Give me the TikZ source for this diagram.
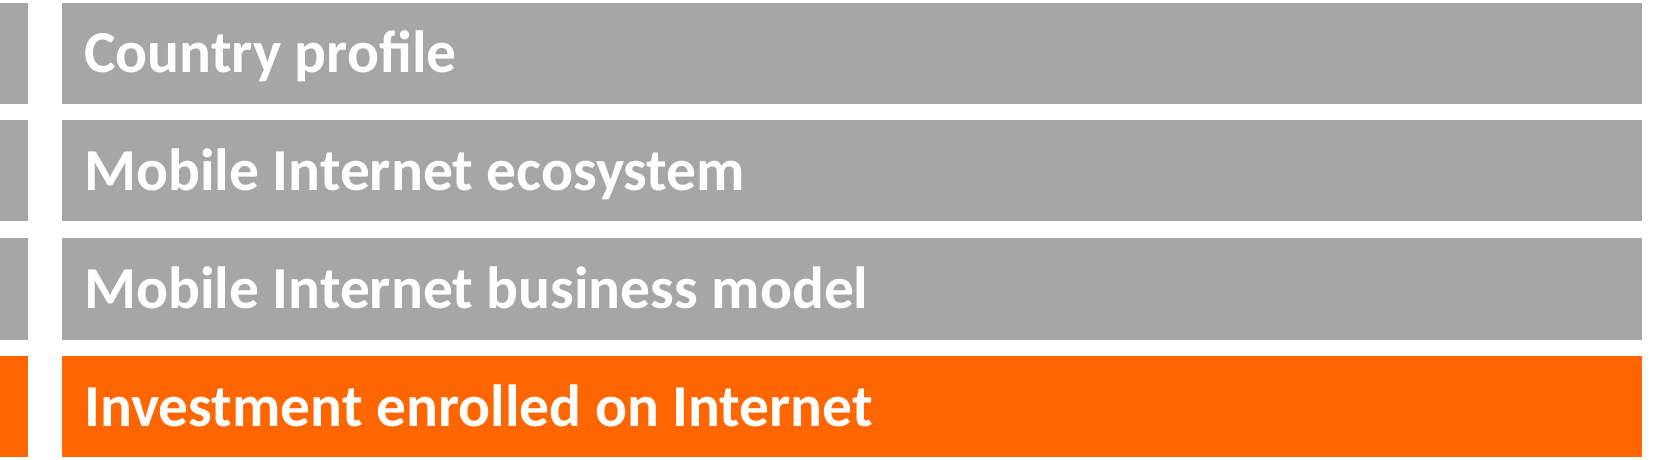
\documentclass[tikz,border=0pt]{standalone}
\usepackage{fontspec}
\setmainfont{Carlito}
\definecolor{bargrey}{HTML}{A6A6A6}
\definecolor{barorange}{HTML}{FF6600}
\begin{document}
\begin{tikzpicture}[x=1pt,y=-1pt,
  bar/.style={fill=bargrey,draw=none},
  hot/.style={fill=barorange,draw=none},
  lbl/.style={anchor=base west,inner sep=0pt,text=white,font=\fontsize{59.5}{60}\selectfont\bfseries}]
\useasboundingbox (0,0) rectangle (1670,460);
\fill[white] (0,0) rectangle (1670,460);
% left tabs
\fill[bargrey] (0,3) rectangle (28,104);
\fill[bargrey] (0,120) rectangle (28,221);
\fill[bargrey] (0,238) rectangle (28,340);
\fill[barorange] (0,356) rectangle (28,457);
% main bars
\fill[bargrey] (62,3) rectangle (1642,104);
\fill[bargrey] (62,120) rectangle (1642,221);
\fill[bargrey] (62,238) rectangle (1642,340);
\fill[barorange] (62,356) rectangle (1642,457);
\node[lbl] (t1) at (84,73) {Country profile};
\node[lbl] (t2) at (84,190) {Mobile Internet ecosystem};
\node[lbl] (t3) at (84,308) {Mobile Internet business model};
\node[lbl] (t4) at (84,426) {Investment enrolled on Internet};
\end{tikzpicture}
\end{document}
